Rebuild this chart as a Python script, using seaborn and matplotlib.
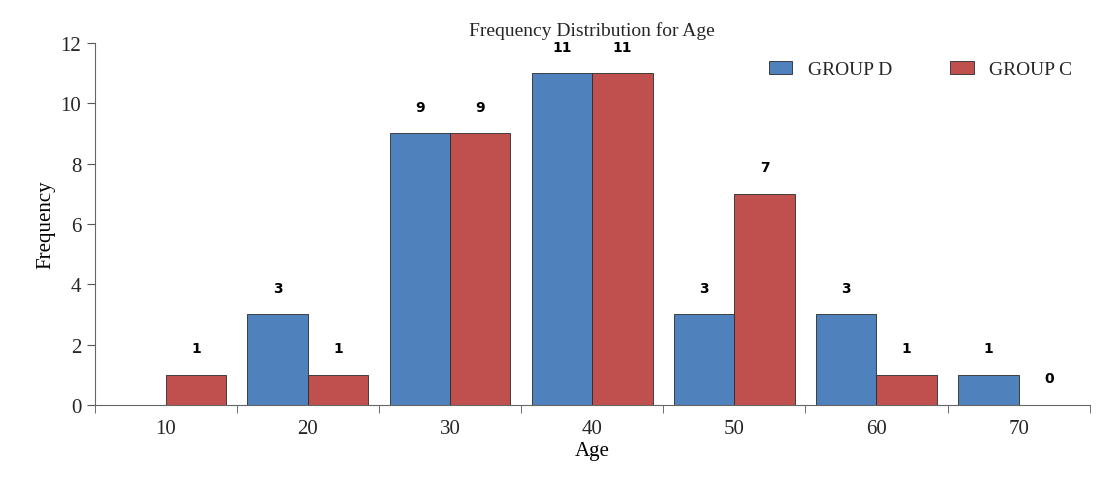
import matplotlib
matplotlib.use("Agg")
import matplotlib.pyplot as plt
import seaborn as sns
import numpy as np
import pandas as pd

ages = ["10", "20", "30", "40", "50", "60", "70"]
group_d = [np.nan, 3, 9, 11, 3, 3, 1]
group_c = [1, 1, 9, 11, 7, 1, 0]

df = pd.DataFrame({
    "Age": ages * 2,
    "Frequency": group_d + group_c,
    "Group": ["GROUP D"] * len(ages) + ["GROUP C"] * len(ages),
})

sns.set_style("white")
plt.rcParams['font.family'] = ['Liberation Serif', 'DejaVu Serif']

fig, ax = plt.subplots(figsize=(11.12, 4.89), dpi=100)
fig.subplots_adjust(left=0.085, right=0.98, top=0.91, bottom=0.17)

sns.barplot(data=df, x="Age", y="Frequency", hue="Group",
            palette={"GROUP D": "#4F81BD", "GROUP C": "#C0504D"},
            saturation=1, edgecolor="#2a2a2a", linewidth=0.6, width=0.85, ax=ax)

for cont in ax.containers:
    labels = ["" if np.isnan(v) else f"{v:g}" for v in cont.datavalues]
    ax.bar_label(cont, labels=labels, padding=14, fontsize=10,
                 fontweight="bold", family="DejaVu Sans", color="black")

ax.set_ylim(0, 12)
ax.set_yticks(range(0, 13, 2))
ax.set_xticks(np.arange(-0.5, len(ages), 1), minor=True)
ax.tick_params(axis="x", which="major", length=0, labelsize=15, pad=10)
ax.tick_params(axis="x", which="minor", bottom=True, length=6, color="#555")
ax.tick_params(axis="y", left=True, length=6, color="#555", labelsize=15)
ax.set_xlabel("Age", fontsize=15, color="black", labelpad=2)
ax.set_ylabel("Frequency", fontsize=15, color="black")
ax.set_title("Frequency Distribution for Age", fontsize=14, pad=6)
for s in ["top", "right"]:
    ax.spines[s].set_visible(False)
for s in ["left", "bottom"]:
    ax.spines[s].set_color("#666")

ax.legend(loc="upper right", ncol=2, frameon=False, fontsize=14,
          handlelength=1.2, columnspacing=3, bbox_to_anchor=(1.0, 1.0))

fig.savefig("out.png", dpi=100)
